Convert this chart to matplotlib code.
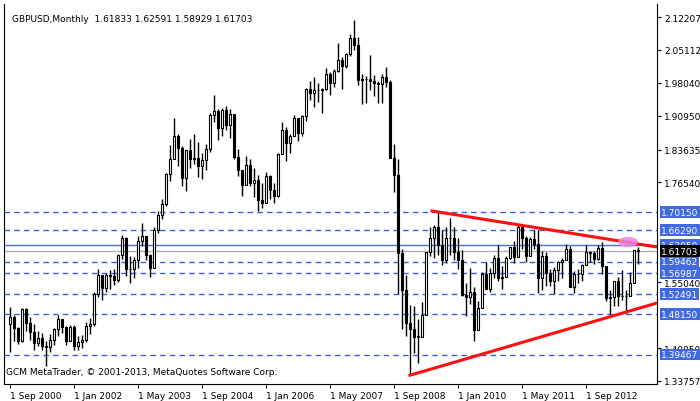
import matplotlib
matplotlib.use("Agg")
import matplotlib.pyplot as plt
from matplotlib.patches import Ellipse
import numpy as np

closes = [1.4750,1.4520,1.4230,1.4930,
1.4630,1.4440,1.4200,1.4310,1.4140,1.4110,1.4270,1.4500,1.4710,1.4530,1.4230,1.4550,
1.4130,1.4210,1.4250,1.4570,1.4610,1.5260,1.5650,1.5390,1.5660,1.5630,1.5550,1.6100,
1.6460,1.5780,1.5800,1.5990,1.6390,1.6510,1.6090,1.5820,1.6620,1.6960,1.7200,1.7830,
1.8150,1.8650,1.8400,1.7750,1.8350,1.8150,1.8180,1.8020,1.8130,1.8370,1.9110,1.9200,
1.8830,1.9210,1.8890,1.9120,1.8200,1.7920,1.7600,1.8040,1.7640,1.7700,1.7270,1.7210,
1.7800,1.7500,1.7370,1.8260,1.8790,1.8500,1.8650,1.9040,1.8710,1.9080,1.9660,1.9580,
1.9640,1.9640,1.9670,1.9990,1.9790,2.0050,2.0300,2.0160,2.0430,2.0760,2.0620,1.9860,
1.9890,1.9880,1.9840,1.9800,1.9770,1.9920,1.9810,1.8190,1.7820,1.6140,1.5340,1.4620,
1.4500,1.4330,1.4330,1.4800,1.6150,1.6450,1.6690,1.6300,1.5980,1.6450,1.6460,1.6150,
1.5990,1.5220,1.5180,1.5300,1.4470,1.4940,1.5680,1.5350,1.5710,1.6030,1.5590,1.5610,
1.6020,1.6260,1.6040,1.6700,1.6460,1.6070,1.6430,1.6330,1.5600,1.6080,1.5700,1.5540,
1.5760,1.5930,1.5990,1.6230,1.5410,1.5680,1.5680,1.5880,1.6150,1.6130,1.6010,1.6250,
1.5850,1.5170,1.5190,1.5530,1.5200,1.5210,1.5210,1.5490,1.6190,1.61703]
first_open = 1.4600
highs = [1.4970,1.4800,1.4550,1.4950,
1.4950,1.4750,1.4600,1.4460,1.4410,1.4240,1.4390,1.4520,1.4800,1.4720,1.4570,1.4580,
1.4580,1.4340,1.4360,1.4640,1.4730,1.5290,1.5800,1.5670,1.5700,1.5760,1.5790,1.6120,
1.6530,1.6470,1.6060,1.6050,1.6510,1.6790,1.6510,1.6120,1.6700,1.7050,1.7290,1.7860,
1.8460,1.9050,1.8700,1.8440,1.8360,1.8600,1.8700,1.8520,1.8280,1.8490,1.9160,1.9550,
1.9230,1.9250,1.9310,1.9230,1.9120,1.8370,1.7800,1.8230,1.8170,1.7960,1.7820,1.7640,
1.7890,1.7810,1.7650,1.8280,1.8960,1.8840,1.8700,1.9110,1.9050,1.9100,1.9700,1.9850,
1.9920,1.9800,1.9700,2.0130,2.0030,2.0100,2.0660,2.0350,2.0450,2.0860,2.1160,2.0780,
1.9990,1.9950,2.0400,1.9980,1.9850,1.9990,2.0150,1.9860,1.8490,1.8160,1.6210,1.5650,
1.5020,1.4990,1.4710,1.5070,1.6160,1.6690,1.6740,1.7040,1.6640,1.6700,1.6880,1.6700,
1.6460,1.6200,1.5480,1.5810,1.5410,1.5100,1.5730,1.5940,1.5820,1.6090,1.6300,1.5860,
1.6060,1.6270,1.6400,1.6750,1.6590,1.6500,1.6480,1.6620,1.6620,1.6170,1.6160,1.5800,
1.5830,1.5970,1.6030,1.6320,1.6280,1.5740,1.5780,1.5900,1.6310,1.6180,1.6170,1.6300,
1.6380,1.5850,1.5330,1.5530,1.5610,1.5760,1.5340,1.5720,1.6200,1.62591]
lows = [1.4010,1.4230,1.4180,1.4220,
1.4460,1.4270,1.4050,1.4120,1.4050,1.3700,1.4000,1.4150,1.4340,1.4400,1.4160,1.4230,
1.4050,1.4050,1.4080,1.4220,1.4390,1.4560,1.5180,1.5130,1.5290,1.5360,1.5450,1.5510,
1.6000,1.5640,1.5480,1.5590,1.5820,1.6290,1.5980,1.5620,1.5830,1.6560,1.6870,1.7140,
1.7690,1.8150,1.8010,1.7580,1.7480,1.7970,1.8050,1.7780,1.7740,1.7930,1.8320,1.8960,
1.8560,1.8660,1.8790,1.8620,1.8150,1.7800,1.7370,1.7760,1.7580,1.7350,1.7050,1.7100,
1.7210,1.7300,1.7220,1.7340,1.8270,1.8110,1.8300,1.8650,1.8540,1.8660,1.8980,1.9440,
1.9280,1.9380,1.9160,1.9650,1.9550,1.9720,2.0040,1.9660,2.0130,2.0380,2.0520,1.9760,
1.9350,1.9360,1.9650,1.9520,1.9360,1.9360,1.9720,1.8210,1.7450,1.5260,1.4490,1.4340,
1.3500,1.3980,1.3760,1.4320,1.4800,1.6080,1.6020,1.6100,1.5880,1.5920,1.6090,1.5990,
1.5780,1.5200,1.4780,1.5030,1.4230,1.4500,1.5240,1.5380,1.5290,1.5600,1.5530,1.5350,
1.5650,1.6000,1.5920,1.6100,1.6210,1.5950,1.6060,1.6220,1.5270,1.5340,1.5420,1.5420,
1.5240,1.5540,1.5600,1.6020,1.5400,1.5270,1.5480,1.5530,1.5880,1.5930,1.5900,1.5980,
1.5690,1.5100,1.4830,1.4990,1.5000,1.5120,1.4810,1.5300,1.5500,1.58929]

xtick_idx = [0,16,32,48,64,80,96,112,128,144]
xtick_labels = ["1 Sep 2000","1 Jan 2002","1 May 2003","1 Sep 2004","1 Jan 2006",
                "1 May 2007","1 Sep 2008","1 Jan 2010","1 May 2011","1 Sep 2012"]
ytick_vals = [2.12207,2.05112,1.98040,1.90950,1.83635,1.76540,1.55040,1.40850,1.33757]
dashed_levels = [1.70150,1.66290,1.59462,1.56987,1.52491,1.48150,1.39467]
solid_level = 1.63050
bid = 1.61703
upper_line = ([105.5,161.75],[1.7040,1.6264])
lower_line = ([100,161.75],[1.3500,1.5057])
ellipse_c = (154.5,1.6372)

fig = plt.figure(figsize=(7,4.02),dpi=100)
ax = fig.add_axes([4/700,(402-385)/402,653/700,380/402])
ax.set_xlim(-1.5,161.75)
ax.set_ylim(1.3311,2.1501)

n = len(closes)
opens = [first_open]+closes[:-1]
x = np.arange(n)
ax.vlines(x,lows,highs,color='black',lw=1,zorder=3)
for i in range(n):
    o,c = opens[i],closes[i]
    b = min(o,c); h = max(abs(c-o),0.0008)
    ax.bar(i,h,bottom=b,width=0.7,facecolor='white' if c>=o else 'black',
           edgecolor='black',lw=0.8,zorder=4)

blue = '#3b5fe0'
for lv in dashed_levels:
    ax.axhline(lv,color=blue,ls=(0,(4,3)),lw=1,zorder=2)
ax.axhline(solid_level,color='#4a6fd0',lw=1,zorder=2)
ax.axhline(bid,color='#b0b0b0',lw=1,zorder=2)
ax.plot(*upper_line,color='#ff1010',lw=2.2,zorder=5)
ax.plot(*lower_line,color='#ff1010',lw=2.2,zorder=5)
ax.add_patch(Ellipse(ellipse_c,width=5,height=0.022,color='#f080e0',alpha=0.85,zorder=6,lw=0))

ax.yaxis.tick_right()
ax.set_yticks(ytick_vals)
ax.set_yticklabels([f"{v:.5f}" for v in ytick_vals])
ax.set_xticks(xtick_idx)
ax.set_xticklabels(xtick_labels,ha='left')
ax.tick_params(labelsize=6.5,length=3,width=0.8,pad=2,colors='black')
ax.spines['top'].set_visible(False)

for lv in dashed_levels+[solid_level]:
    ax.text(1.006,lv,f"{lv:.5f}",transform=ax.get_yaxis_transform(),fontsize=6.5,color='white',
            va='center',ha='left',zorder=10,clip_on=False,
            bbox=dict(boxstyle='square,pad=0.15',fc='#4169e1',ec='none'))
ax.text(1.006,bid,f"{bid:.5f}",transform=ax.get_yaxis_transform(),fontsize=6.5,color='white',
        va='center',ha='left',zorder=11,clip_on=False,
        bbox=dict(boxstyle='square,pad=0.15',fc='black',ec='none'))

ax.text(0.012,0.975,"GBPUSD,Monthly  1.61833 1.62591 1.58929 1.61703",transform=ax.transAxes,
        fontsize=6.5,va='top',ha='left')
ax.text(0.003,0.02,"GCM MetaTrader, \u00a9 2001-2013, MetaQuotes Software Corp.",transform=ax.transAxes,
        fontsize=6.5,va='bottom',ha='left')
fig.savefig("out.png",dpi=100)
